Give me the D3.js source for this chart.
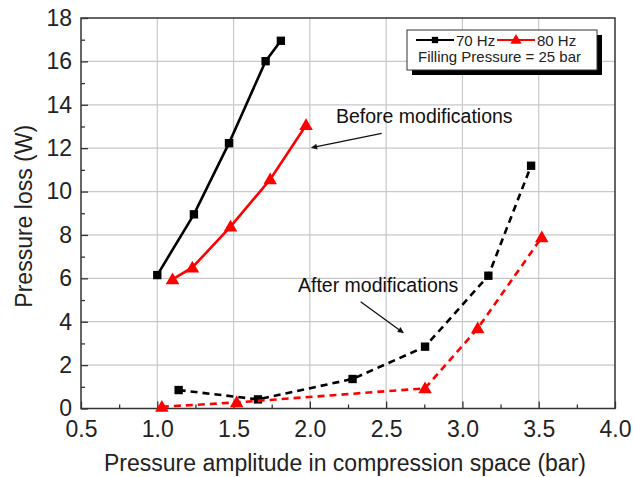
<!DOCTYPE html>
<html><head><meta charset="utf-8">
<script src="https://cdn.jsdelivr.net/npm/d3@7"></script>
<style>body{margin:0;background:#fff}svg{display:block}text{font-family:"Liberation Sans",Arial,sans-serif}</style>
</head><body>
<svg id="c" width="633" height="477"></svg>
<script>
// Data
const before70x = [1.00, 1.24, 1.47, 1.71, 1.81];
const before70y = [6.15, 8.95, 12.23, 16.01, 16.95];
const before80x = [1.10, 1.23, 1.48, 1.74, 1.975];
const before80y = [5.95, 6.5, 8.38, 10.56, 13.06];
const after70x = [1.14, 1.66, 2.28, 2.755, 3.17, 3.45];
const after70y = [0.85, 0.42, 1.36, 2.85, 6.12, 11.19];
const after80x = [1.03, 1.52, 2.755, 3.10, 3.52];
const after80y = [0.08, 0.28, 0.93, 3.69, 7.89];
const xTicks = [0.5, 1.0, 1.5, 2.0, 2.5, 3.0, 3.5, 4.0];
const yTicks = [0, 2, 4, 6, 8, 10, 12, 14, 16, 18];
const xLabel = "Pressure amplitude in compression space (bar)";
const yLabel = "Pressure loss (W)";
const legendNames = ["70 Hz", "80 Hz"];
const legendNote = "Filling Pressure = 25 bar";
const annoBefore = "Before modifications";
const annoAfter = "After modifications";

const svg = d3.select("#c");
const L = 81, R = 615, T = 18, B = 408.5;
const x = d3.scaleLinear().domain([0.5, 4.0]).range([L, R]);
const y = d3.scaleLinear().domain([0, 18]).range([B, T]);

// grid
const g = svg.append("g");
g.selectAll(".gx").data(xTicks.slice(1, -1)).enter().append("line")
  .attr("x1", d => x(d)).attr("x2", d => x(d)).attr("y1", T).attr("y2", B)
  .attr("stroke", "#c8c8c8").attr("stroke-width", 1.2);
g.selectAll(".gy").data(yTicks.slice(1, -1)).enter().append("line")
  .attr("y1", d => y(d)).attr("y2", d => y(d)).attr("x1", L).attr("x2", R)
  .attr("stroke", "#c8c8c8").attr("stroke-width", 1.2);

// axes
const xMinor = d3.range(0.75, 4.0, 0.5);
const yMinor = d3.range(1, 18, 2);
const xAxis = d3.axisBottom(x).tickValues(xTicks).tickFormat(d3.format(".1f")).tickSizeInner(-7).tickSizeOuter(0).tickPadding(12);
const yAxis = d3.axisLeft(y).tickValues(yTicks).tickFormat(d3.format("d")).tickSizeInner(-7).tickSizeOuter(0).tickPadding(9);
const gx = svg.append("g").attr("transform", `translate(0,${B})`).call(xAxis);
const gy = svg.append("g").attr("transform", `translate(${L},0)`).call(yAxis);
[gx, gy].forEach(a => {
  a.select(".domain").remove();
  a.selectAll("line").attr("stroke", "#333").attr("stroke-width", 1.3);
  a.selectAll("text").attr("font-size", 23).attr("fill", "#222").attr("font-family", "Liberation Sans, Arial, sans-serif");
});
svg.append("g").attr("transform", `translate(0,${B})`)
  .call(d3.axisBottom(x).tickValues(xMinor).tickSizeInner(-4).tickSizeOuter(0).tickFormat(""))
  .call(a => { a.select(".domain").remove(); a.selectAll("line").attr("stroke", "#333").attr("stroke-width", 1.3); });
svg.append("g").attr("transform", `translate(${L},0)`)
  .call(d3.axisLeft(y).tickValues(yMinor).tickSizeInner(-4).tickSizeOuter(0).tickFormat(""))
  .call(a => { a.select(".domain").remove(); a.selectAll("line").attr("stroke", "#333").attr("stroke-width", 1.3); });

// frame
svg.append("rect").attr("x", L).attr("y", T).attr("width", R - L).attr("height", B - T)
  .attr("fill", "none").attr("stroke", "#333").attr("stroke-width", 1.5);

// series
const line = d3.line().x(d => x(d[0])).y(d => y(d[1]));
function series(xs, ys, color, dashed, marker) {
  const pts = xs.map((v, i) => [v, ys[i]]);
  svg.append("path").datum(pts).attr("d", line).attr("fill", "none")
    .attr("stroke", color).attr("stroke-width", 2.6)
    .attr("stroke-dasharray", dashed ? "7,5" : null);
  const sym = d3.symbol().type(marker === "sq" ? d3.symbolSquare : d3.symbolTriangle).size(marker === "sq" ? 70 : 80);
  svg.selectAll(null).data(pts).enter().append("path")
    .attr("d", sym).attr("transform", d => `translate(${x(d[0])},${y(d[1]) + (marker === "sq" ? 0 : 1)})`)
    .attr("fill", color);
}
series(before70x, before70y, "#000", false, "sq");
series(before80x, before80y, "#f00", false, "tri");
series(after70x, after70y, "#000", true, "sq");
series(after80x, after80y, "#f00", true, "tri");

// annotations
const defs = svg.append("defs");
defs.append("marker").attr("id", "ah").attr("viewBox", "0 0 10 10").attr("refX", 9).attr("refY", 5)
  .attr("markerWidth", 10).attr("markerHeight", 6).attr("orient", "auto").attr("markerUnits", "userSpaceOnUse")
  .append("path").attr("d", "M0,0L10,5L0,10z").attr("fill", "#111");

svg.append("text").attr("x", x(2.171)).attr("y", y(13.15)).attr("font-size", 19.5).attr("fill", "#111").text(annoBefore);
svg.append("line").attr("x1", x(2.471)).attr("y1", y(12.686)).attr("x2", x(2.012)).attr("y2", y(12.02))
  .attr("stroke", "#111").attr("stroke-width", 1.3).attr("marker-end", "url(#ah)");
svg.append("text").attr("x", x(1.922)).attr("y", y(5.384)).attr("font-size", 19.5).attr("fill", "#111").text(annoAfter);
svg.append("line").attr("x1", x(2.333)).attr("y1", y(4.923)).attr("x2", x(2.612)).attr("y2", y(3.494))
  .attr("stroke", "#111").attr("stroke-width", 1.3).attr("marker-end", "url(#ah)");

// legend
const lx = 407, ly = 30, lw = 190, lh = 40;
svg.append("rect").attr("x", lx + 5).attr("y", ly + 5).attr("width", lw).attr("height", lh).attr("fill", "#000");
svg.append("rect").attr("x", lx).attr("y", ly).attr("width", lw).attr("height", lh).attr("fill", "#fff").attr("stroke", "#333").attr("stroke-width", 1);
const legColors = ["#000", "#f00"];
const legX = [lx + 9, lx + 90];
legendNames.forEach((n, i) => {
  const cx = legX[i], cy = ly + 10;
  svg.append("line").attr("x1", cx).attr("x2", cx + 38).attr("y1", cy).attr("y2", cy).attr("stroke", legColors[i]).attr("stroke-width", 2.2);
  svg.append("path").attr("d", d3.symbol().type(i === 0 ? d3.symbolSquare : d3.symbolTriangle).size(i === 0 ? 40 : 55))
    .attr("transform", `translate(${cx + 19},${cy + (i === 0 ? 0 : 0.5)})`).attr("fill", legColors[i]);
  svg.append("text").attr("x", cx + 40).attr("y", cy + 5.5).attr("font-size", 15).attr("fill", "#222").text(n);
});
svg.append("text").attr("x", lx + 11).attr("y", ly + 31.5).attr("font-size", 15).attr("fill", "#222").text(legendNote);

// axis titles
svg.append("text").attr("x", 345).attr("y", 471).attr("text-anchor", "middle").attr("font-size", 23).attr("fill", "#222").text(xLabel);
svg.append("text").attr("transform", `translate(32,${(T + B) / 2 + 3}) rotate(-90)`).attr("text-anchor", "middle").attr("font-size", 23).attr("fill", "#222").text(yLabel);
</script>
</body></html>
